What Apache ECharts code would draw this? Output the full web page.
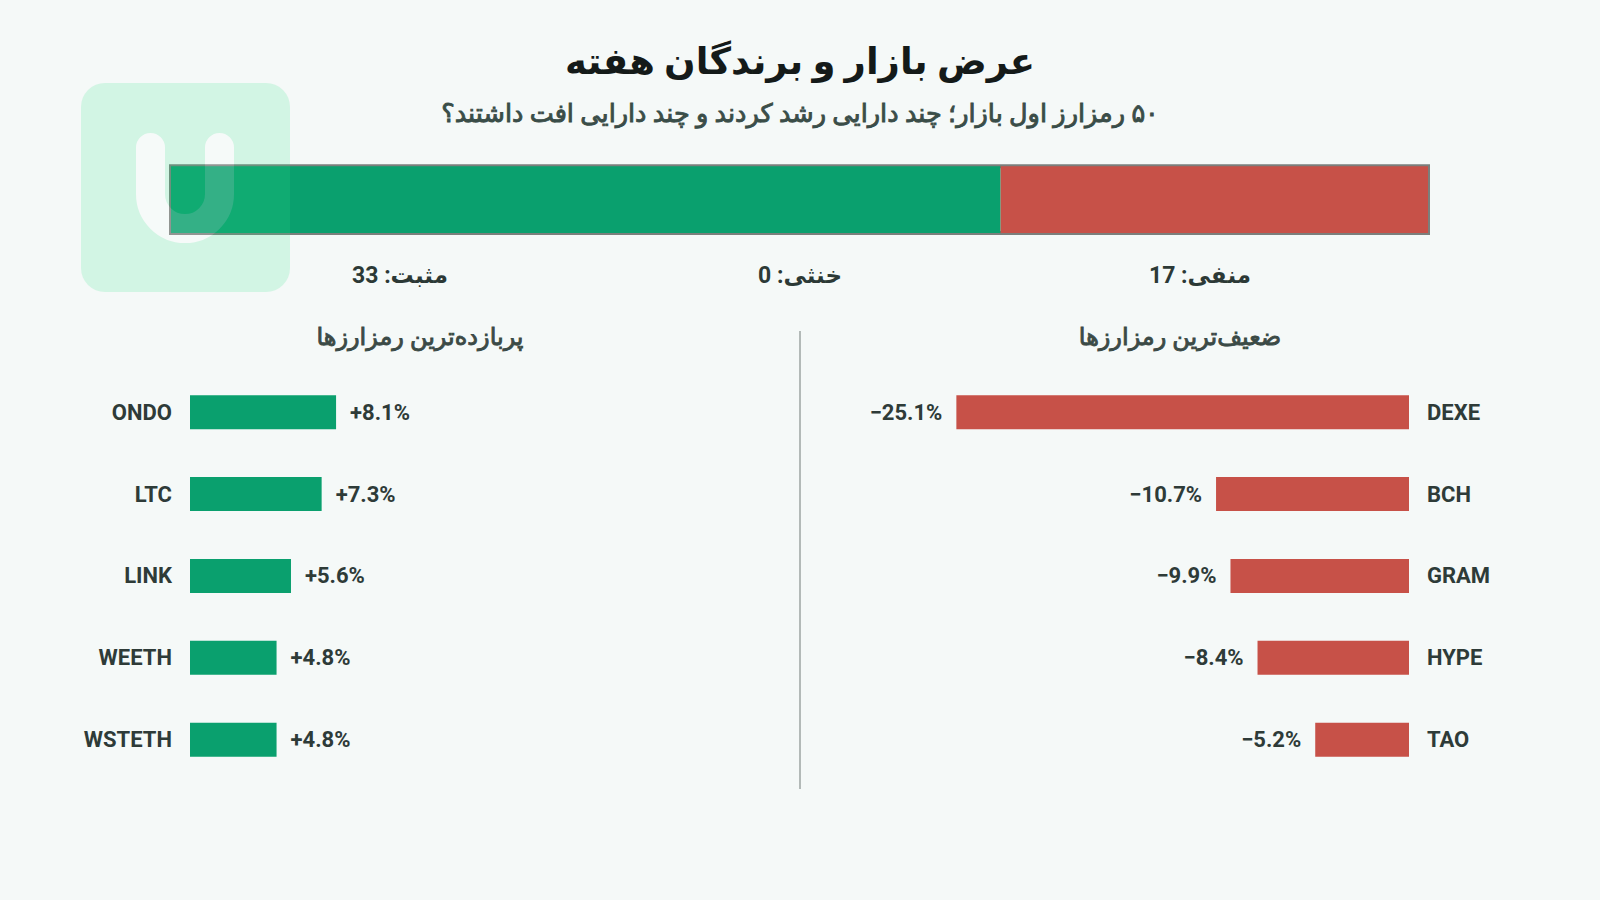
<!DOCTYPE html>
<html><head><meta charset="utf-8">
<script src="https://cdn.jsdelivr.net/npm/echarts@6/dist/echarts.min.js"></script>
<style>html,body{margin:0;padding:0;background:#f5f9f8}#c{width:1600px;height:900px}</style>
</head><body><div id="c"></div><script>
// ---- data ----
const titleText = 'عرض بازار و برندگان هفته';
const subtitleText = '۵۰ رمزارز اول بازار؛ چند دارایی رشد کردند و چند دارایی افت داشتند؟';
const breadthLabels = ['مثبت', 'خنثی', 'منفی'];
const breadthCounts = [33, 0, 17];
const gainersTitle = 'پربازده‌ترین رمزارزها';
const losersTitle = 'ضعیف‌ترین رمزارزها';
const gainerNames = ['ONDO', 'LTC', 'LINK', 'WEETH', 'WSTETH'];
const gainerValues = [8.1, 7.3, 5.6, 4.8, 4.8];
const loserNames = ['DEXE', 'BCH', 'GRAM', 'HYPE', 'TAO'];
const loserValues = [-25.1, -10.7, -9.9, -8.4, -5.2];

// ---- styles ----
const FONT = 'Roboto, "DejaVu Sans", sans-serif';
const GREEN = '#0aa06e', RED = '#c75148', GREY = '#9aa5a2';
const breadthColors = [GREEN, GREY, RED];
const TXT = '#2e3b38';
const rtl = s => '\u202B' + s + '\u202C';
const total = breadthCounts.reduce((a, b) => a + b, 0);

const logoSvg = "<svg xmlns='http://www.w3.org/2000/svg' width='209' height='209'>" +
  "<rect width='209' height='209' rx='24' fill='#2ee286'/>" +
  "<path d='M69.5 64.5 V111 A34.5 34.5 0 0 0 138.5 111 V64.5' fill='none' stroke='#ffffff' stroke-width='29' stroke-linecap='round'/></svg>";
const logoURI = 'data:image/svg+xml;charset=utf-8,' + encodeURIComponent(logoSvg);

const chart = echarts.init(document.getElementById('c'), null, {renderer: 'svg', width: 1600, height: 900});

const titles = [
  {text: rtl(titleText), left: 'center', top: 36, padding: 0,
   textStyle: {fontFamily: FONT, fontSize: 37, fontWeight: 'bold', color: '#141a19', lineHeight: 50}},
  {text: rtl(subtitleText), left: 'center', top: 96, padding: 0,
   textStyle: {fontFamily: FONT, fontSize: 25.5, fontWeight: 'normal', color: '#3a4d48', lineHeight: 34,
               textBorderColor: '#3a4d48', textBorderWidth: 0.9}},
  {text: rtl(gainersTitle), left: 420, textAlign: 'center', top: 320, padding: 0,
   textStyle: {fontFamily: FONT, fontSize: 24, fontWeight: 'normal', color: '#3b4a46', lineHeight: 34,
               textBorderColor: '#3b4a46', textBorderWidth: 0.9}},
  {text: rtl(losersTitle), left: 1180, textAlign: 'center', top: 320, padding: 0,
   textStyle: {fontFamily: FONT, fontSize: 24, fontWeight: 'normal', color: '#3b4a46', lineHeight: 34,
               textBorderColor: '#3b4a46', textBorderWidth: 0.9}}
];
const breadthX = [400, 800, 1200];
breadthLabels.forEach((n, i) => {
  titles.push({text: rtl(n + ': ' + breadthCounts[i]), left: breadthX[i], textAlign: 'center', top: 259.5, padding: 0,
    textStyle: {fontFamily: FONT, fontSize: 23, fontWeight: 'bold', color: '#2c3936', lineHeight: 32}});
});

const catAxisLabel = {margin: 18, fontFamily: FONT, fontSize: 22, fontWeight: 'bold', color: TXT};
const valLabel = {show: true, distance: 14, fontFamily: FONT, fontSize: 22, fontWeight: 'bold', color: TXT};

const series = breadthLabels.map((n, i) => ({
  type: 'bar', name: n, stack: 'breadth', xAxisIndex: 0, yAxisIndex: 0,
  data: [breadthCounts[i]], barWidth: '100%', silent: true,
  itemStyle: {color: breadthColors[i]}
}));
series.push({
  type: 'bar', xAxisIndex: 1, yAxisIndex: 1, data: gainerValues, barWidth: 34, silent: true,
  itemStyle: {color: GREEN},
  label: Object.assign({}, valLabel, {position: 'right', formatter: p => '+' + p.value.toFixed(1) + '%'})
});
series.push({
  type: 'bar', xAxisIndex: 2, yAxisIndex: 2, data: loserValues, barWidth: 34, silent: true,
  itemStyle: {color: RED},
  label: Object.assign({}, valLabel, {position: 'left', formatter: p => '\u2212' + Math.abs(p.value).toFixed(1) + '%'})
});

chart.setOption({
  backgroundColor: '#f5f9f8',
  animation: false,
  title: titles,
  grid: [
    {left: 171, right: 172, top: 166.3, height: 66.7, show: true, borderColor: '#7b7f7c', borderWidth: 4, backgroundColor: 'transparent'},
    {left: 190, top: 371.2, width: 541, height: 409.5},
    {right: 191, top: 371.2, width: 541, height: 409.5}
  ],
  xAxis: [
    {gridIndex: 0, type: 'value', min: 0, max: total, show: false},
    {gridIndex: 1, type: 'value', min: 0, max: 30, show: false},
    {gridIndex: 2, type: 'value', min: -30, max: 0, show: false}
  ],
  yAxis: [
    {gridIndex: 0, type: 'category', data: ['breadth'], show: false},
    {gridIndex: 1, type: 'category', data: gainerNames, inverse: true,
     axisLine: {show: false}, axisTick: {show: false}, axisLabel: catAxisLabel},
    {gridIndex: 2, type: 'category', data: loserNames, inverse: true, position: 'right',
     axisLine: {show: false}, axisTick: {show: false}, axisLabel: catAxisLabel}
  ],
  series: series,
  graphic: [
    {type: 'line', shape: {x1: 800, y1: 331, x2: 800, y2: 789}, style: {stroke: '#9da5a3', lineWidth: 1.5}, z: 1},
    {type: 'image', x: 81, y: 83, style: {image: logoURI, width: 209, height: 209, opacity: 0.17}, z: 100}
  ]
});
</script></body></html>
